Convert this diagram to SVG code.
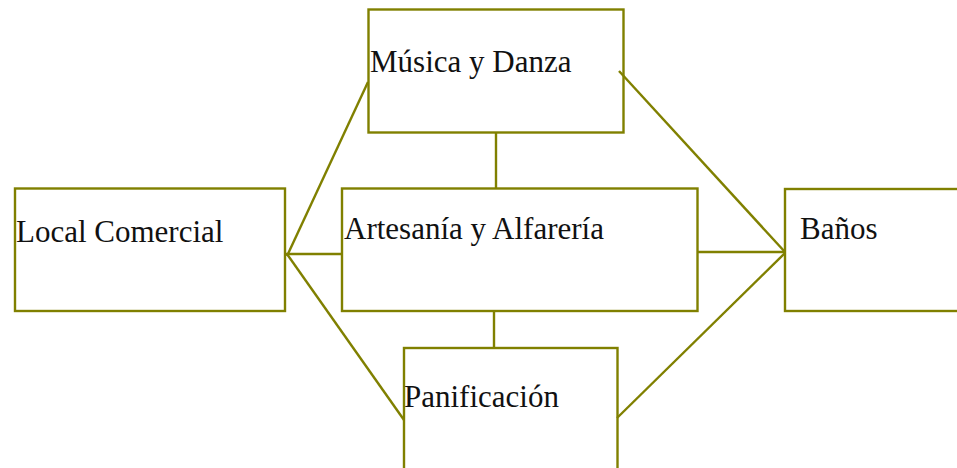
<svg xmlns="http://www.w3.org/2000/svg" width="957" height="468" viewBox="0 0 957 468">
<style>
.box{fill:#ffffff;stroke:#808000;stroke-width:2.4}
.edge{stroke:#808000;stroke-width:2.4;fill:none}
.lbl{font-family:"Liberation Serif","DejaVu Serif",serif;font-size:31px;fill:#111}
</style>
<rect width="957" height="468" fill="#ffffff"/>
<g id="musica">
<rect class="box" x="368.5" y="9.5" width="255" height="123"/>
<text class="lbl" x="370" y="72">Música y Danza</text>
</g>
<g id="local">
<rect class="box" x="15" y="188.5" width="270" height="122.5"/>
<text class="lbl" x="16" y="242">Local Comercial</text>
</g>
<g id="artesania">
<rect class="box" x="342" y="188.5" width="355.5" height="122.5"/>
<text class="lbl" x="344" y="239">Artesanía y Alfarería</text>
</g>
<g id="banos">
<rect class="box" x="785" y="189" width="200" height="122"/>
<text class="lbl" x="800" y="239">Baños</text>
</g>
<g id="panificacion">
<rect class="box" x="404" y="348" width="213.5" height="150"/>
<text class="lbl" x="404" y="407">Panificación</text>
</g>
<g id="connectors">
<line class="edge" x1="496" y1="133" x2="496" y2="188"/>
<line class="edge" x1="494" y1="311" x2="494" y2="347"/>
<line class="edge" x1="368" y1="82" x2="287" y2="256"/>
<line class="edge" x1="341" y1="254" x2="286" y2="254"/>
<line class="edge" x1="287" y1="254" x2="404" y2="420"/>
<line class="edge" x1="619" y1="71" x2="785" y2="252"/>
<line class="edge" x1="698" y1="252" x2="785" y2="252"/>
<line class="edge" x1="617" y1="418" x2="785" y2="253"/>
</g>
</svg>
